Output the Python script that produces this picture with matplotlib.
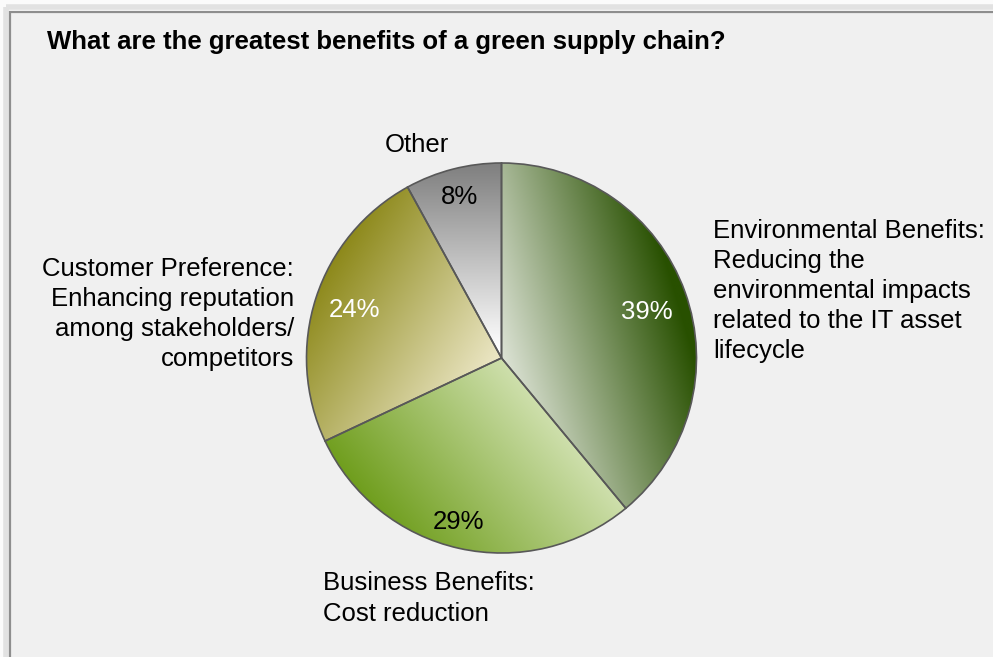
import numpy as np
import matplotlib.pyplot as plt
from matplotlib.patches import Rectangle

plt.rcParams['font.family'] = ['Liberation Sans', 'DejaVu Sans']

# survey answers, clockwise from 12 o'clock
categories = ['Environmental Benefits:\nReducing the\nenvironmental impacts\nrelated to the IT asset\nlifecycle',
              'Business Benefits:\nCost reduction',
              'Customer Preference:\nEnhancing reputation\namong stakeholders/\ncompetitors',
              'Other']
shares = [39, 29, 24, 8]
pct_colors = ['white', 'black', 'white', 'black']

# gradient stops per slice: (start point, end point, start colour, end colour), pixel coords
gradients = [
    ((500, 380), (685, 325), (228, 233, 222), (40, 80, 0)),
    ((560, 365), (360, 530), (226, 237, 202), (100, 150, 12)),
    ((330, 260), (495, 365), (140, 136, 25), (236, 231, 198)),
    ((501, 165), (501, 350), (128, 128, 128), (255, 255, 255)),
]

W, H = 993, 657
cx, cy, R = 501.5, 358, 195

fig = plt.figure(figsize=(W / 100, H / 100), dpi=100)
fig.patch.set_facecolor('#fbfbfb')
ax = fig.add_axes([0, 0, 1, 1])

wedges, _ = ax.pie(shares, startangle=-90, counterclock=True,
                   center=(cx, cy), radius=R,
                   wedgeprops=dict(facecolor='none', edgecolor='#585858', linewidth=1.2, zorder=4))

# fill each slice with a linear gradient clipped to the wedge
n = 400
xs = np.linspace(cx - R, cx + R, n)
ys = np.linspace(cy - R, cy + R, n)
gx, gy = np.meshgrid(xs, ys)
for w, (p0, p1, c0, c1) in zip(wedges, gradients):
    d = np.array(p1, float) - np.array(p0, float)
    t = ((gx - p0[0]) * d[0] + (gy - p0[1]) * d[1]) / (d @ d)
    t = np.clip(t, 0, 1)[..., None]
    img = (np.array(c0) + t * (np.array(c1) - np.array(c0))) / 255.0
    im = ax.imshow(img, origin='lower', extent=(cx - R, cx + R, cy - R, cy + R),
                   interpolation='bilinear', zorder=3)
    im.set_clip_path(w)

# frame with a soft shadow on the top/left
ax.add_patch(Rectangle((6, 7), 1200, 1200, facecolor='none', edgecolor='#e2e2e2', linewidth=4, zorder=1))
ax.add_patch(Rectangle((10, 11.5), 1200, 1200, facecolor='#f0f0f0', edgecolor='#8e8e8e', linewidth=1.6, zorder=2))

fs = 18.5
ax.text(47, 42, 'What are the greatest benefits of a green supply chain?', fontsize=fs,
        fontweight='bold', ha='left', va='center', zorder=5)

pct_pos = [(647, 312), (459, 522), (355, 310), (460, 197)]
for s, (px, py), c in zip(shares, pct_pos, pct_colors):
    ax.text(px, py, f'{s}%', fontsize=fs, color=c, ha='center', va='center', zorder=5)

ls = 1.32
ax.text(713, 218.5, categories[0], fontsize=fs, ha='left', va='top', linespacing=ls, zorder=5)
ax.text(323, 571.5, categories[1], fontsize=fs, ha='left', va='top', linespacing=ls, zorder=5)
ax.text(294, 256.5, categories[2], fontsize=fs, ha='right', va='top', linespacing=ls,
        multialignment='right', zorder=5)
ax.text(417, 145, categories[3], fontsize=fs, ha='center', va='center', zorder=5)

ax.set_xlim(0, W)
ax.set_ylim(H, 0)
ax.set_aspect('auto')
ax.axis('off')

fig.savefig('out.png', dpi=100, facecolor=fig.get_facecolor())
